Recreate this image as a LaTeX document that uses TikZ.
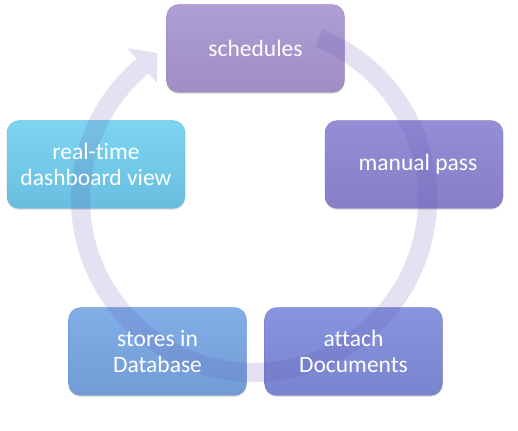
\documentclass[tikz,border=0pt]{standalone}
\usepackage{fontspec}
\setmainfont[Ligatures=NoCommon]{Carlito}
\usetikzlibrary{shadows}
\definecolor{ringc}{RGB}{95,85,175}
\definecolor{schT}{RGB}{174,158,215}
\definecolor{schB}{RGB}{158,142,196}
\definecolor{manT}{RGB}{148,142,215}
\definecolor{manB}{RGB}{134,127,200}
\definecolor{attT}{RGB}{136,148,223}
\definecolor{attB}{RGB}{121,132,206}
\definecolor{stoT}{RGB}{130,174,231}
\definecolor{stoB}{RGB}{113,156,214}
\definecolor{dasT}{RGB}{126,213,241}
\definecolor{dasB}{RGB}{104,190,223}
\begin{document}
\begin{tikzpicture}[x=1pt,y=1pt,
  stepbox/.style={rectangle, rounded corners=12pt, minimum width=178pt,
    minimum height=88pt, inner sep=0pt, line width=0.8pt,
    drop shadow={shadow xshift=0pt, shadow yshift=-1.5pt, opacity=0.18, fill=black!60}},
  lbl/.style={text=white, align=center, inner sep=0pt,
    font=\fontsize{23.5}{26}\selectfont},
  ringfill/.style={fill=ringc, fill opacity=0.17}]
\useasboundingbox (0,0) rectangle (518,430);
% boxes
\node[stepbox, top color=schT, bottom color=schB, draw=schB!85!black, draw opacity=0.3] (s) at (255.5,381.5) {};
\node[stepbox, top color=manT, bottom color=manB, draw=manB!85!black, draw opacity=0.3] (m) at (414,265.5) {};
\node[stepbox, top color=attT, bottom color=attB, draw=attB!85!black, draw opacity=0.3] (a) at (353.5,78.5) {};
\node[stepbox, top color=stoT, bottom color=stoB, draw=stoB!85!black, draw opacity=0.3] (d) at (157.5,78.5) {};
\node[stepbox, top color=dasT, bottom color=dasB, draw=dasB!85!black, draw opacity=0.3] (v) at (96,265.5) {};
% circular arrow
\begin{scope}[shift={(254,231)}]
\fill[ringfill] (68:183) arc[start angle=68, end angle=-230, radius=183]
  -- (-230:197) -- (-236.5:175) -- (-230:151) -- (-230:164)
  arc[start angle=-230, end angle=68, radius=164] -- cycle;
\end{scope}
% labels
\node[lbl] (ls) at (s) {schedules};
\node[lbl] (lm) at ([xshift=4pt]m.center) {manual pass};
\node[lbl] (la) at (a) {attach\\Documents};
\node[lbl] (ld) at (d) {stores in\\Database};
\node[lbl] (lv) at (v) {real-time\\dashboard view};
\end{tikzpicture}
\end{document}
